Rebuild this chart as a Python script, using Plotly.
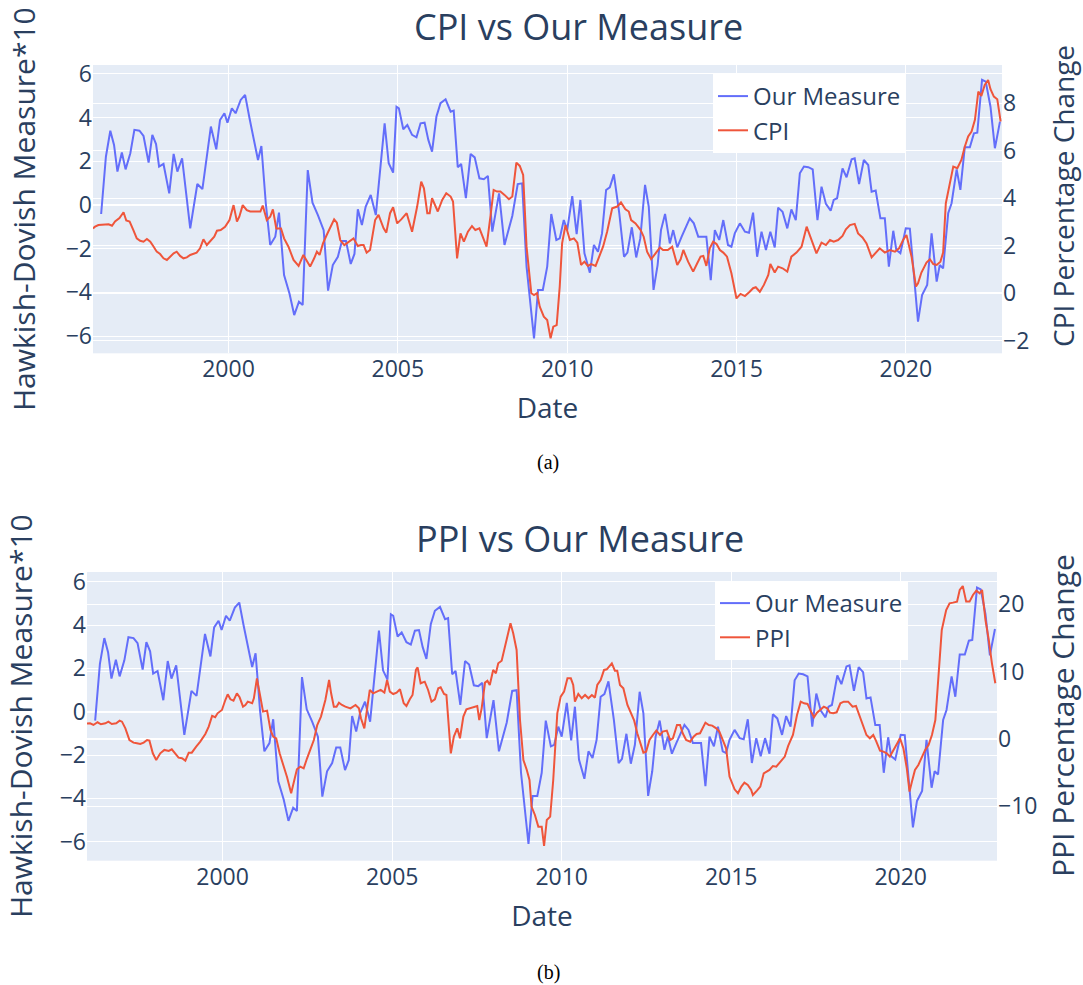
import pandas as pd
import plotly.graph_objects as go
from plotly.subplots import make_subplots

# ---------------- data (decimal years) ----------------
measure_t = [
    1996.24, 1996.38, 1996.51, 1996.62, 1996.72, 1996.85, 1996.96, 1997.10, 1997.22, 1997.37,
    1997.49, 1997.64, 1997.75, 1997.86, 1997.95, 1998.08, 1998.25, 1998.38, 1998.49, 1998.63,
    1998.87, 1999.08, 1999.23, 1999.48, 1999.64, 1999.75, 1999.88, 1999.97, 2000.10, 2000.21,
    2000.36, 2000.49, 2000.62, 2000.76, 2000.87, 2000.97, 2001.10, 2001.23, 2001.38, 2001.49,
    2001.64, 2001.80, 2001.94, 2002.08, 2002.19, 2002.34, 2002.48, 2002.64, 2002.81, 2002.94,
    2003.08, 2003.23, 2003.35, 2003.47, 2003.61, 2003.72, 2003.82, 2003.94, 2004.05, 2004.20,
    2004.35,
    2004.61, 2004.73, 2004.86, 2004.96, 2005.03, 2005.16, 2005.28, 2005.42, 2005.55, 2005.67,
    2005.79, 2005.90, 2006.01, 2006.14, 2006.26, 2006.41, 2006.56, 2006.65, 2006.77, 2006.87,
    2007.01, 2007.15, 2007.27, 2007.41, 2007.54, 2007.66, 2007.79, 2007.99, 2008.15, 2008.38,
    2008.54, 2008.67, 2008.80, 2009.02, 2009.14, 2009.28, 2009.41, 2009.53, 2009.68, 2009.78,
    2009.90, 2010.00, 2010.15, 2010.28, 2010.39, 2010.51, 2010.67, 2010.79, 2010.91, 2011.03,
    2011.15, 2011.26, 2011.38, 2011.54, 2011.68, 2011.78, 2011.91, 2012.04, 2012.16, 2012.30,
    2012.41, 2012.55, 2012.67, 2012.77, 2012.89, 2013.03,
    2013.13, 2013.25, 2013.38, 2013.50, 2013.62, 2013.74, 2013.87, 2014.02, 2014.11, 2014.24,
    2014.36, 2014.49, 2014.61, 2014.75, 2014.85, 2014.95, 2015.10, 2015.25, 2015.37, 2015.49,
    2015.61, 2015.74, 2015.87, 2016.00, 2016.13, 2016.23, 2016.36, 2016.50, 2016.62, 2016.75,
    2016.87, 2016.99, 2017.12, 2017.25, 2017.39, 2017.51, 2017.64, 2017.78, 2017.87, 2017.97,
    2018.13, 2018.25, 2018.40, 2018.49, 2018.62, 2018.76, 2018.89, 2018.99, 2019.11, 2019.25,
    2019.38, 2019.50, 2019.63, 2019.72, 2019.84, 2020.00, 2020.12, 2020.36, 2020.48, 2020.63,
    2020.76, 2020.91, 2021.00, 2021.10, 2021.25, 2021.35, 2021.50, 2021.61, 2021.74, 2021.89,
    2022.01, 2022.11, 2022.25, 2022.36, 2022.50, 2022.63, 2022.78,
]
measure_v = [
    -0.41, 2.21, 3.40, 2.75, 1.53, 2.40, 1.63, 2.37, 3.44, 3.40,
    3.16, 1.94, 3.21, 2.79, 1.76, 1.88, 0.53, 2.34, 1.53, 2.14,
    -1.07, 0.96, 0.73, 3.59, 2.55, 3.89, 4.20, 3.77, 4.43, 4.20,
    4.81, 5.04, 3.97, 2.85, 2.06, 2.70, 0.08, -1.83, -1.45, -0.35,
    -3.21, -4.05, -5.04, -4.43, -4.58, 1.60, 0.11, -0.46, -1.15, -3.92,
    -2.75, -2.37, -1.65, -1.65, -2.70, -2.24, -0.20, -0.92, -0.08, 0.46,
    -0.46,
    3.74, 1.91, 1.48, 4.50, 4.43, 3.47, 3.66, 3.21, 3.10, 3.74,
    3.77, 2.98, 2.44, 4.05, 4.66, 4.84, 4.27, 4.32, 1.73, 1.88,
    0.31, 2.34, 2.18, 1.22, 1.18, 1.33, -1.22, 0.53, -1.83, -0.50,
    0.96, 0.99, -2.82, -6.11, -3.89, -3.89, -2.82, -0.41, -1.60, -1.53,
    -0.69, -1.15, 0.41, -1.33, 0.23, -2.21, -3.10, -1.83, -2.14, -1.30,
    0.69, 0.81, 1.40, -0.38, -2.37, -2.18, -1.02, -2.40, -1.53, 0.92,
    -0.08, -3.89, -2.75, -1.15, -0.41, -1.76,
    -1.15, -1.94, -1.45, -0.99, -0.61, -0.84, -1.45, -1.45, -1.45, -3.44,
    -1.15, -1.60, -0.69, -1.83, -1.91, -1.30, -0.84, -1.22, -1.27, -0.35,
    -2.37, -1.22, -2.06, -1.22, -1.94, -0.12, -0.31, -1.07, -0.20, -0.69,
    1.45, 1.76, 1.73, 1.63, -0.69, 0.84, 0.05, -0.26, 0.23, 0.31,
    1.68, 1.27, 2.09, 2.14, 0.96, 2.06, 1.83, 0.61, 0.66, -0.61,
    -0.61, -2.82, -1.18, -2.06, -2.21, -1.07, -1.08, -5.34, -4.12, -3.66,
    -1.30, -3.51, -2.75, -2.90, -0.38, 0.08, 1.63, 0.69, 2.64, 2.64,
    3.28, 3.31, 5.73, 5.65, 4.50, 2.60, 3.82,
]

cpi_t = [
    1996.00, 1996.06, 1996.16, 1996.31, 1996.46, 1996.56, 1996.65, 1996.78, 1996.90, 1996.98,
    1997.08, 1997.19, 1997.29, 1997.39, 1997.49, 1997.59, 1997.69, 1997.79, 1997.88, 1997.98,
    1998.08, 1998.18, 1998.28, 1998.38, 1998.47, 1998.57, 1998.67, 1998.77, 1998.87, 1998.97,
    1999.06, 1999.16, 1999.26, 1999.36, 1999.46, 1999.58, 1999.66, 1999.77, 1999.90, 2000.03,
    2000.15, 2000.25, 2000.32, 2000.42, 2000.54, 2000.64, 2000.79, 2000.94, 2001.01, 2001.13,
    2001.23, 2001.31, 2001.41, 2001.55, 2001.64, 2001.77, 2001.92, 2002.07, 2002.21, 2002.31,
    2002.41, 2002.53, 2002.61, 2002.69, 2002.79, 2002.90, 2003.02, 2003.12, 2003.20, 2003.30,
    2003.42, 2003.54, 2003.69, 2003.82, 2003.91, 2003.99, 2004.08, 2004.18, 2004.33, 2004.43,
    2004.58, 2004.66, 2004.77,
    2004.86, 2004.98, 2005.10, 2005.26, 2005.42, 2005.57, 2005.69, 2005.77, 2005.87, 2005.94,
    2006.01, 2006.11, 2006.18, 2006.31, 2006.43, 2006.56, 2006.63, 2006.75, 2006.85, 2006.95,
    2007.07, 2007.19, 2007.29, 2007.41, 2007.54, 2007.62, 2007.74, 2007.83, 2007.93, 2008.03,
    2008.15, 2008.28, 2008.38, 2008.50, 2008.60, 2008.70, 2008.80, 2008.94, 2009.02, 2009.11,
    2009.19, 2009.31, 2009.41, 2009.51, 2009.59, 2009.69, 2009.78, 2009.85, 2009.95, 2010.08,
    2010.20, 2010.30, 2010.41, 2010.51, 2010.61, 2010.71, 2010.84, 2010.94, 2011.06, 2011.18,
    2011.33, 2011.48, 2011.59, 2011.72, 2011.82, 2011.89, 2012.02, 2012.17, 2012.26, 2012.36,
    2012.48, 2012.61, 2012.74, 2012.83, 2012.97, 2013.10, 2013.25, 2013.35,
    2013.43, 2013.57, 2013.72, 2013.84, 2013.94, 2014.02, 2014.11, 2014.21, 2014.31, 2014.41,
    2014.51, 2014.61, 2014.72, 2014.85, 2015.00, 2015.12, 2015.25, 2015.39, 2015.49, 2015.57,
    2015.69, 2015.81, 2015.94, 2016.00, 2016.13, 2016.23, 2016.36, 2016.50, 2016.62, 2016.77,
    2016.92, 2017.07, 2017.21, 2017.36, 2017.51, 2017.64, 2017.76, 2017.87, 2018.00, 2018.13,
    2018.23, 2018.35, 2018.49, 2018.59, 2018.72, 2018.84, 2018.99, 2019.11, 2019.23, 2019.38,
    2019.53, 2019.68, 2019.80, 2019.92, 2020.02, 2020.17, 2020.30, 2020.36, 2020.46, 2020.61,
    2020.71, 2020.81, 2020.91, 2021.02, 2021.10, 2021.18, 2021.28, 2021.40, 2021.52, 2021.64,
    2021.74, 2021.84, 2021.94, 2022.04, 2022.14, 2022.23, 2022.33, 2022.43, 2022.50, 2022.60,
    2022.70, 2022.80,
]
cpi_v = [
    2.73, 2.80, 2.87, 2.87, 2.90, 2.84, 3.02, 3.16, 3.41, 3.06,
    3.02, 2.66, 2.31, 2.21, 2.17, 2.28, 2.17, 1.96, 1.75, 1.65,
    1.47, 1.40, 1.54, 1.68, 1.75, 1.57, 1.47, 1.51, 1.61, 1.68,
    1.71, 1.89, 2.27, 2.03, 2.17, 2.38, 2.63, 2.66, 2.80, 3.08,
    3.71, 3.02, 3.22, 3.71, 3.50, 3.44, 3.44, 3.44, 3.69, 3.08,
    3.22, 3.53, 2.73, 2.73, 2.31, 1.96, 1.40, 1.15, 1.61, 1.33,
    1.12, 1.47, 1.75, 1.61, 2.10, 2.45, 2.80, 3.11, 2.97, 2.24,
    2.03, 2.17, 2.31, 1.99, 2.03, 2.03, 1.71, 1.82, 3.08, 3.30,
    2.73, 2.55, 3.37,
    3.62, 2.94, 3.11, 3.37, 2.59, 3.65, 4.70, 4.42, 3.37, 3.37,
    4.00, 3.65, 3.44, 3.93, 4.21, 4.07, 3.86, 1.47, 2.52, 2.17,
    2.59, 2.83, 2.66, 2.73, 2.24, 1.96, 3.29, 4.35, 4.28, 4.28,
    4.14, 3.96, 4.07, 5.50, 5.36, 4.98, 1.96, 0.00, -0.08, 0.00,
    -0.57, -0.99, -1.13, -1.90, -1.41, -1.34, 0.28, 2.10, 2.87, 2.24,
    2.31, 2.13, 1.19, 1.33, 1.15, 1.23, 1.15, 1.54, 1.96, 2.59,
    3.58, 3.65, 3.82, 3.53, 3.44, 3.08, 2.94, 2.66, 2.38, 1.75,
    1.43, 1.68, 1.93, 1.82, 1.82, 1.96, 1.19, 1.43,
    1.82, 1.33, 0.91, 1.26, 1.54, 1.57, 1.15, 1.89, 2.17, 2.07,
    1.82, 1.71, 1.54, 0.84, -0.22, -0.03, -0.12, 0.06, 0.21, 0.25,
    0.06, 0.35, 0.77, 1.23, 0.87, 1.12, 1.05, 0.91, 1.54, 1.71,
    1.96, 2.80, 2.24, 1.68, 2.13, 2.03, 2.24, 2.17, 2.24, 2.41,
    2.69, 2.87, 2.92, 2.52, 2.35, 2.10, 1.51, 1.68, 1.89, 1.71,
    1.82, 1.75, 1.89, 2.24, 2.45, 1.54, 0.28, 0.42, 0.87, 1.29,
    1.43, 1.23, 1.19, 1.33, 1.71, 3.79, 4.49, 5.33, 5.26, 5.61,
    6.17, 6.60, 6.81, 7.30, 8.49, 8.31, 8.77, 8.98, 8.59, 8.28,
    8.17, 7.23,
]

ppi_t = [
    1996.00, 1996.09, 1996.19, 1996.31, 1996.41, 1996.54, 1996.63, 1996.73, 1996.86, 1996.96,
    1997.03, 1997.13, 1997.25, 1997.37, 1997.47, 1997.57, 1997.67, 1997.77, 1997.84, 1997.94,
    1998.04, 1998.16, 1998.28, 1998.41, 1998.50, 1998.60, 1998.70, 1998.80, 1998.90, 1999.00,
    1999.09, 1999.22, 1999.34, 1999.49, 1999.59, 1999.69, 1999.78, 1999.85, 1999.98, 2000.08,
    2000.15, 2000.23, 2000.32, 2000.42, 2000.50, 2000.60, 2000.67, 2000.74, 2000.87, 2000.92,
    2001.01, 2001.11, 2001.19, 2001.31, 2001.41, 2001.49, 2001.58, 2001.68, 2001.78, 2001.90,
    2002.02, 2002.12, 2002.19, 2002.29, 2002.39, 2002.49, 2002.59, 2002.69, 2002.79, 2002.90,
    2003.03, 2003.14, 2003.20, 2003.28, 2003.36, 2003.43, 2003.52, 2003.62, 2003.77, 2003.92,
    2004.02, 2004.08, 2004.18, 2004.26, 2004.34, 2004.44, 2004.54, 2004.66, 2004.77, 2004.85,
    2004.93,
    2005.03, 2005.13, 2005.23, 2005.34, 2005.42, 2005.52, 2005.60, 2005.70, 2005.75, 2005.84,
    2005.96, 2006.06, 2006.16, 2006.26, 2006.36, 2006.43, 2006.53, 2006.60, 2006.73, 2006.82,
    2006.92, 2007.00, 2007.10, 2007.19, 2007.29, 2007.44, 2007.51, 2007.57, 2007.64, 2007.74,
    2007.81, 2007.88, 2007.98, 2008.06, 2008.13, 2008.23, 2008.38, 2008.49, 2008.57, 2008.67,
    2008.77, 2008.87, 2008.97, 2009.05, 2009.11, 2009.21, 2009.31, 2009.41, 2009.48, 2009.56,
    2009.66, 2009.75, 2009.87, 2009.97, 2010.07, 2010.17, 2010.27, 2010.34, 2010.39, 2010.49,
    2010.59, 2010.69, 2010.79, 2010.89, 2010.98, 2011.05, 2011.15, 2011.25, 2011.33, 2011.41,
    2011.48, 2011.57, 2011.64, 2011.72, 2011.82, 2011.94, 2012.04, 2012.14, 2012.23, 2012.41,
    2012.49, 2012.59, 2012.69, 2012.79, 2012.90, 2012.98, 2013.10, 2013.20, 2013.28, 2013.40,
    2013.49,
    2013.57, 2013.67, 2013.79, 2013.89, 2013.98, 2014.08, 2014.16, 2014.24, 2014.34, 2014.44,
    2014.56, 2014.65, 2014.75, 2014.85, 2014.95, 2015.10, 2015.20, 2015.30, 2015.39, 2015.49,
    2015.59, 2015.64, 2015.76, 2015.86, 2015.96, 2016.04, 2016.13, 2016.23, 2016.33, 2016.43,
    2016.58, 2016.68, 2016.75, 2016.82, 2016.94, 2017.05, 2017.15, 2017.25, 2017.34, 2017.44,
    2017.53, 2017.63, 2017.73, 2017.83, 2017.91, 2018.01, 2018.11, 2018.22, 2018.32, 2018.45,
    2018.58, 2018.68, 2018.80, 2018.90, 2018.99, 2019.09, 2019.19, 2019.27, 2019.39, 2019.49,
    2019.59, 2019.68, 2019.78, 2019.90, 2019.98, 2020.08, 2020.18, 2020.26, 2020.33, 2020.42,
    2020.52, 2020.62, 2020.72, 2020.82, 2020.92, 2021.02, 2021.11, 2021.21, 2021.34, 2021.44,
    2021.54, 2021.66, 2021.74, 2021.83, 2021.93, 2022.03, 2022.13, 2022.23, 2022.33, 2022.40,
    2022.50, 2022.59, 2022.69, 2022.79,
]
ppi_v = [
    2.3, 2.33, 2.08, 2.48, 2.18, 2.33, 2.57, 2.23, 2.33, 2.72,
    2.57, 1.58, -0.15, -0.54, -0.64, -0.74, -0.54, -0.15, -0.25, -2.13,
    -3.12, -2.13, -1.63, -1.78, -1.53, -2.13, -2.77, -2.87, -3.22, -2.03,
    -2.03, -1.14, -0.40, 0.74, 1.83, 3.42, 3.22, 3.81, 4.31, 5.79,
    6.63, 5.89, 5.69, 6.78, 6.19, 4.80, 5.05, 5.54, 5.30, 6.04,
    9.01, 6.29, 4.06, 4.21, 1.34, 0.35, 0.10, -2.13, -3.61, -5.69,
    -8.07, -6.09, -4.50, -4.11, -4.36, -2.87, -1.39, -0.15, 2.08, 3.32,
    5.79, 8.76, 6.78, 4.80, 4.80, 5.40, 5.05, 4.80, 4.55, 5.05,
    4.55, 3.07, 1.58, 4.55, 7.28, 6.78, 7.03, 7.28, 6.88, 8.76,
    7.03,
    6.68, 6.88, 7.38, 5.30, 4.90, 5.89, 6.53, 10.25, 10.64, 8.27,
    8.51, 7.28, 5.54, 5.89, 7.52, 7.67, 6.68, 6.53, -2.13, 0.35,
    1.58, 0.10, 3.32, 4.41, 4.55, 4.70, 4.90, 2.82, 4.55, 8.37,
    8.66, 8.02, 10.25, 9.75, 11.24, 11.63, 14.70, 17.18, 15.69, 13.22,
    2.82, -3.12, -4.60, -6.09, -10.05, -11.29, -13.02, -13.02, -15.89, -12.03,
    -11.53, -6.09, 3.81, 6.29, 7.03, 9.01, 9.01, 8.02, 5.54, 6.68,
    6.04, 6.53, 6.04, 6.53, 6.14, 8.02, 8.76, 10.25, 10.35, 10.84,
    11.24, 10.15, 10.15, 8.02, 7.52, 5.05, 3.81, 2.72, 0.84, -2.03,
    -1.88, -0.15, 0.59, 1.24, 0.59, 1.09, 1.24, -0.15, 0.10, 2.08,
    2.08,
    0.84, -0.15, -0.40, 0.35, 0.74, 0.84, 1.58, 2.43, 2.08, 1.98,
    1.58, 1.09, -0.15, -1.39, -5.59, -7.48, -8.07, -7.08, -6.49, -6.83,
    -7.57, -8.32, -7.67, -7.08, -5.10, -4.85, -4.60, -4.01, -4.11, -3.51,
    -2.62, -1.04, -0.15, 0.59, 3.56, 5.54, 5.30, 5.20, 4.21, 3.22,
    3.91, 4.41, 4.80, 4.55, 3.91, 3.81, 3.96, 5.30, 5.54, 5.54,
    4.80, 4.90, 3.32, 1.83, 0.59, 0.10, 0.59, -0.25, -1.73, -1.88,
    -2.13, -2.62, -1.63, -0.64, 0.10, -1.39, -4.36, -7.82, -6.34, -4.60,
    -3.86, -2.62, -1.63, -0.89, 0.59, 2.82, 9.26, 16.19, 19.16, 20.15,
    20.25, 20.40, 22.13, 22.72, 20.40, 20.40, 21.39, 22.03, 21.63, 22.13,
    17.67, 14.95, 11.24, 8.27,
]

x_range = [1996.0, 2022.84]


def to_date(d):
    y = int(d)
    start = pd.Timestamp(y, 1, 1)
    end = pd.Timestamp(y + 1, 1, 1)
    return start + (end - start) * (d - y)


def dates(arr):
    return [to_date(v) for v in arr]


W, H = 1083, 985
BLUE = "#636efa"
RED = "#EF553B"
FONT = "Open Sans, verdana, arial, sans-serif"
TXT = "#2a3f5f"


def px_x(p):
    return p / W


def px_y(p):
    return 1 - p / H


fig = make_subplots(rows=2, cols=1, specs=[[{"secondary_y": True}], [{"secondary_y": True}]])

fig.add_trace(go.Scatter(x=dates(measure_t), y=measure_v, mode="lines", name="Our Measure",
                         line=dict(color=BLUE, width=2), legend="legend"),
              row=1, col=1, secondary_y=False)
fig.add_trace(go.Scatter(x=dates(cpi_t), y=cpi_v, mode="lines", name="CPI",
                         line=dict(color=RED, width=2), legend="legend"),
              row=1, col=1, secondary_y=True)
fig.add_trace(go.Scatter(x=dates(measure_t), y=measure_v, mode="lines", name="Our Measure",
                         line=dict(color=BLUE, width=2), legend="legend2"),
              row=2, col=1, secondary_y=False)
fig.add_trace(go.Scatter(x=dates(ppi_t), y=ppi_v, mode="lines", name="PPI",
                         line=dict(color=RED, width=2), legend="legend2"),
              row=2, col=1, secondary_y=True)

TICK = 23
TOP_Y = [px_y(353.3), px_y(65)]
BOT_Y = [px_y(860.7), px_y(572)]


def label(text, x, y, size, color=TXT, family=FONT, angle=0):
    return dict(text=text, x=px_x(x), y=px_y(y), xref="paper", yref="paper",
                xanchor="center", yanchor="middle", showarrow=False, textangle=angle,
                font=dict(size=size, color=color, family=family))


fig.update_layout(
    template="plotly",
    width=W, height=H,
    margin=dict(l=0, r=0, t=0, b=0, autoexpand=False),
    paper_bgcolor="white",
    plot_bgcolor="#E5ECF6",
    font=dict(family=FONT, color=TXT, size=TICK),
    legend=dict(x=px_x(713), y=px_y(74), xanchor="left", yanchor="top",
                bgcolor="white", font=dict(size=24)),
    legend2=dict(x=px_x(715), y=px_y(581), xanchor="left", yanchor="top",
                 bgcolor="white", font=dict(size=24)),
    annotations=[
        label("CPI vs Our Measure", 578, 26, 36),
        label("PPI vs Our Measure", 580, 538, 36),
        label("Hawkish-Dovish Measure*10", 23, 209, 30, angle=-90),
        label("Hawkish-Dovish Measure*10", 20, 716, 30, angle=-90),
        label("CPI Percentage Change", 1063, 196, 28, angle=-90),
        label("PPI Percentage Change", 1062, 716, 30, angle=-90),
        label("(a)", 548, 462, 20, color="black", family="Liberation Serif"),
        label("(b)", 548, 972, 20, color="black", family="Liberation Serif"),
    ],
)

xr = [to_date(x_range[0]), to_date(x_range[1])]
fig.update_xaxes(automargin=False, tickfont=dict(size=TICK),
                 title=dict(text="Date", font=dict(size=28)), range=xr)
fig.update_xaxes(domain=[px_x(93), px_x(1002)], row=1, col=1)
fig.update_xaxes(domain=[px_x(87), px_x(997)], row=2, col=1)
fig.update_yaxes(automargin=False, tickfont=dict(size=TICK), showgrid=True)

fig.update_yaxes(domain=TOP_Y, range=[-6.79, 6.41], dtick=2, row=1, col=1, secondary_y=False)
fig.update_yaxes(domain=TOP_Y, range=[-2.53, 9.61], dtick=2, row=1, col=1, secondary_y=True)
fig.update_yaxes(domain=BOT_Y, range=[-6.88, 6.45], dtick=2, row=2, col=1, secondary_y=False)
fig.update_yaxes(domain=BOT_Y, range=[-18.08, 24.8], dtick=10, row=2, col=1, secondary_y=True)

# the page body normally has an 8px margin; remove it so the figure fills the window
fig.write_html("out.html", config={"displayModeBar": False},
               post_script="document.body.style.margin='0px';")
